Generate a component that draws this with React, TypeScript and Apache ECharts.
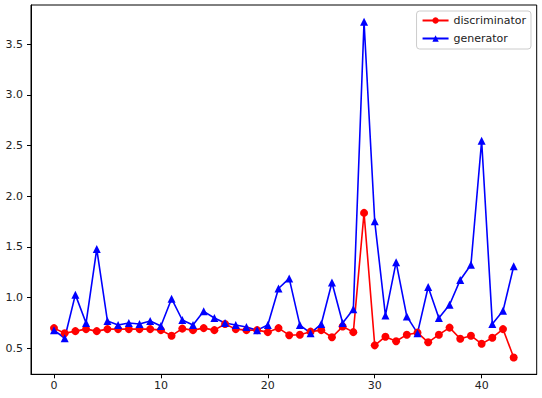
import React, { useEffect, useRef } from "react";
import * as echarts from "echarts";

const xTicks = [0, 10, 20, 30, 40];
const yTicks = [0.5, 1.0, 1.5, 2.0, 2.5, 3.0, 3.5];
const discriminator = [
  0.70, 0.65, 0.67, 0.69, 0.67, 0.69, 0.69, 0.69, 0.69, 0.69,
  0.68, 0.625, 0.695, 0.68, 0.70, 0.68, 0.74, 0.69, 0.68, 0.68,
  0.66, 0.70, 0.63, 0.635, 0.665, 0.68, 0.61, 0.715, 0.66, 1.836,
  0.53, 0.615, 0.57, 0.635, 0.655, 0.56, 0.635, 0.705, 0.595, 0.625,
  0.545, 0.605, 0.69, 0.41,
];
const generator = [
  0.68, 0.60, 1.03, 0.75, 1.48, 0.77, 0.73, 0.75, 0.74, 0.77,
  0.72, 0.99, 0.78, 0.73, 0.865, 0.80, 0.75, 0.73, 0.71, 0.68,
  0.73, 1.09, 1.19, 0.73, 0.65, 0.74, 1.15, 0.75, 0.885, 3.72,
  1.753, 0.825, 1.35, 0.815, 0.65, 1.105, 0.80, 0.93, 1.175, 1.325,
  2.547, 0.74, 0.87, 1.31,
];

export default function App() {
  const ref = useRef<HTMLDivElement>(null);
  useEffect(() => {
    document.body.style.margin = "0";
    const chart = echarts.init(ref.current!, null, { renderer: "svg" });
    const font = "DejaVu Sans";
    const n = discriminator.length;
    const lo = Math.min(...discriminator, ...generator);
    const hi = Math.max(...discriminator, ...generator);
    const pad = (hi - lo) * 0.05;
    const xpad = (n - 1) * 0.05;
    chart.setOption({
      animation: false,
      textStyle: { fontFamily: font },
      grid: {
        left: 31,
        top: 5,
        right: 5.3,
        bottom: 23.7,
        show: true,
        borderColor: "#000",
        borderWidth: 1,
        backgroundColor: "#fff",
      },
      legend: {
        orient: "vertical",
        right: 11,
        top: 11,
        backgroundColor: "rgba(255,255,255,0.8)",
        borderColor: "#ccc",
        borderWidth: 1,
        borderRadius: 3,
        padding: [4, 5, 5, 5],
        itemWidth: 26,
        itemHeight: 8,
        itemGap: 7,
        textStyle: { fontFamily: font, fontSize: 11, color: "#222" },
        data: ["discriminator", "generator"],
      },
      xAxis: {
        type: "value",
        min: -xpad,
        max: n - 1 + xpad,
        splitLine: { show: false },
        axisLine: { show: true, onZero: false, lineStyle: { color: "#000", width: 1 } },
        axisTick: { show: true, length: 4, lineStyle: { color: "#000" }, customValues: xTicks },
        axisLabel: {
          customValues: xTicks,
          margin: 6,
          fontSize: 11,
          fontFamily: font,
          color: "#222",
        },
      },
      yAxis: {
        type: "value",
        min: lo - pad,
        max: hi + pad,
        splitLine: { show: false },
        axisLine: { show: true, onZero: false, lineStyle: { color: "#000", width: 1 } },
        axisTick: { show: true, length: 4, lineStyle: { color: "#000" }, customValues: yTicks },
        axisLabel: {
          customValues: yTicks,
          margin: 8,
          fontSize: 11,
          fontFamily: font,
          color: "#222",
          formatter: (v: number) => v.toFixed(1),
        },
      },
      series: [
        {
          name: "discriminator",
          type: "line",
          data: discriminator.map((v, i) => [i, v]),
          symbol: "circle",
          symbolSize: 8,
          itemStyle: { color: "#ff0000" },
          lineStyle: { color: "#ff0000", width: 1.6 },
        },
        {
          name: "generator",
          type: "line",
          data: generator.map((v, i) => [i, v]),
          symbol: "triangle",
          symbolSize: 8,
          itemStyle: { color: "#0000ff" },
          lineStyle: { color: "#0000ff", width: 1.6 },
        },
      ],
    });
    return () => chart.dispose();
  }, []);
  return <div ref={ref} style={{ width: 542, height: 398 }} />;
}
